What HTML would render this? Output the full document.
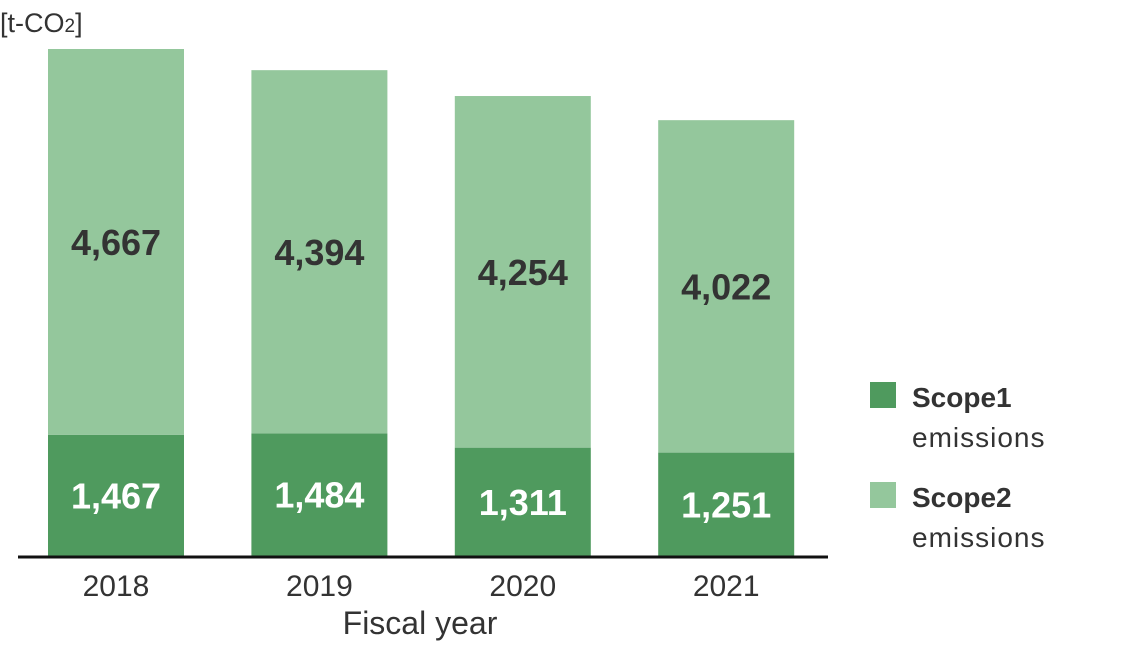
<!DOCTYPE html>
<html><head><meta charset="utf-8"><style>
body{margin:0;background:#fff;}
svg{display:block;font-family:"Liberation Sans","Noto Sans CJK JP",sans-serif;}
</style></head><body>
<svg id="chart" width="1127" height="645" viewBox="0 0 1127 645">
<text x="0" y="32" font-size="27" fill="#333">[t-CO<tspan font-size="19">2</tspan>]</text>
<g id="bars"></g>
<line x1="18" y1="557" x2="828" y2="557" stroke="#111" stroke-width="3"/>
<text x="420" y="634" font-size="32" fill="#333" text-anchor="middle">Fiscal year</text>
<g>
<rect x="870" y="382" width="26" height="26" fill="#4f9a5e"/>
<text x="912" y="407" font-size="28" font-weight="bold" fill="#333">Scope1</text>
<text x="912" y="447" font-size="28" fill="#333" letter-spacing="1">emissions</text>
<rect x="870" y="482" width="26" height="26" fill="#94c79c"/>
<text x="912" y="507" font-size="28" font-weight="bold" fill="#333">Scope2</text>
<text x="912" y="547" font-size="28" fill="#333" letter-spacing="1">emissions</text>
</g>
</svg>
<script>
const years = ["2018","2019","2020","2021"];
const scope1 = [1467,1484,1311,1251];
const scope2 = [4667,4394,4254,4022];
const baseY = 556, scale = 507/6134;
const x0 = 48, step = 203.4, bw = 136;
function xPos(i){return x0 + i*step;}
function yPos(v){return baseY - v*scale;}
const ns = "http://www.w3.org/2000/svg";
const g = document.getElementById("bars");
function mk(tag, attrs){const e=document.createElementNS(ns,tag);for(const k in attrs)e.setAttribute(k,attrs[k]);g.appendChild(e);return e;}
const fmt = v => v.toLocaleString("en-US");
years.forEach((yr,i)=>{
  const x = xPos(i), y1 = yPos(scope1[i]), y2 = yPos(scope1[i]+scope2[i]);
  const r1 = mk("rect",{x:x,y:y1,width:bw,height:baseY-y1,fill:"#4f9a5e"});
  
  
  const r2 = mk("rect",{x:x,y:y2,width:bw,height:y1-y2,fill:"#94c79c"});
  
  
  const t1 = mk("text",{x:x+bw/2,y:(y1+baseY)/2+13,"font-size":36,"font-weight":"bold",fill:"#fff","text-anchor":"middle"});
  t1.textContent = fmt(scope1[i]);
  
  
  const t2 = mk("text",{x:x+bw/2,y:(y2+y1)/2+13,"font-size":36,"font-weight":"bold",fill:"#333","text-anchor":"middle"});
  t2.textContent = fmt(scope2[i]);
  
  
  const t3 = mk("text",{x:x+bw/2,y:596,"font-size":30,fill:"#333","text-anchor":"middle"});
  t3.textContent = yr;
  
  
});
</script>
</body></html>
